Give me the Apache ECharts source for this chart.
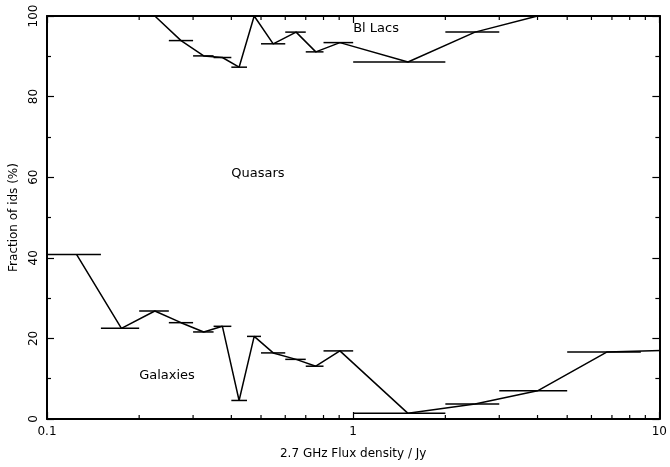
<!DOCTYPE html>
<html><head><meta charset="utf-8">
<script src="https://cdn.jsdelivr.net/npm/echarts@6/dist/echarts.min.js"></script>
<style>html,body{margin:0;padding:0;background:#fff}#c{width:670px;height:467px}</style>
</head><body><div id="c"></div>
<script>
// Bin edges (Jy)
var binLo = [0.1,0.15,0.2,0.25,0.3,0.35,0.4,0.45,0.5,0.6,0.7,0.8,1.0,2.0,3.0,5.0];
var binHi = [0.15,0.2,0.25,0.3,0.35,0.4,0.45,0.5,0.6,0.7,0.8,1.0,2.0,3.0,5.0,8.7];
// Representative flux of each bin (where the connecting line bends)
var binMid = [0.125,0.175,0.225,0.274,0.325,0.374,0.424,0.475,0.548,0.651,0.755,0.905,1.51,2.5,4.0,6.73,14];
// Galaxy fraction (%)
var galaxies = [40.8,22.5,26.8,23.9,21.6,23.0,4.6,20.5,16.4,14.8,13.1,16.9,1.4,3.7,7.0,16.6,17.3];
// 100 - BL Lac fraction (%)  (upper boundary of quasars)
var upper = [100,100,100,93.9,90.1,89.7,87.3,100,93.1,96.0,91.1,93.4,88.6,96.0,100,100,100];
// Axis ticks
var xMajor = [0.1,1,10];
var xMinor = [0.2,0.3,0.4,0.5,0.6,0.7,0.8,0.9,2,3,4,5,6,7,8,9];
var labels = [{t:'Quasars',x:0.4,y:60.8},{t:'Bl Lacs',x:1.0,y:96.8},{t:'Galaxies',x:0.2,y:10.8}];

var FONT = 'DejaVu Sans';
function lineData(vals){ return binMid.map(function(x,i){return [x, vals[i]];}); }
function barData(vals){ return binLo.map(function(lo,i){return [lo, binHi[i], vals[i]];}); }

function barSeries(vals){
  return {
    type:'custom', xAxisIndex:0, yAxisIndex:0, clip:true, silent:true,
    data: barData(vals), encode:{x:[0,1], y:2},
    renderItem:function(params, api){
      var a = api.coord([api.value(0), api.value(2)]);
      var b = api.coord([api.value(1), api.value(2)]);
      return {type:'line', shape:{x1:a[0],y1:a[1],x2:b[0],y2:b[1]}, style:{stroke:'#000', lineWidth:1.5}};
    }
  };
}
function minorTickSeries(){
  return {
    type:'custom', xAxisIndex:0, yAxisIndex:0, silent:true, clip:false,
    data: xMinor.map(function(v){return [v];}), encode:{x:0},
    renderItem:function(params, api){
      var b = api.coord([api.value(0), 0]);
      var t = api.coord([api.value(0), 100]);
      return {type:'group', children:[
        {type:'line', shape:{x1:b[0],y1:b[1],x2:b[0],y2:b[1]-4}, style:{stroke:'#000',lineWidth:1.2}},
        {type:'line', shape:{x1:t[0],y1:t[1],x2:t[0],y2:t[1]+4}, style:{stroke:'#000',lineWidth:1.2}}
      ]};
    }
  };
}
function textSeries(){
  return {
    type:'scatter', xAxisIndex:0, yAxisIndex:0, symbolSize:0, silent:true,
    data: labels.map(function(l){return {value:[l.x,l.y], name:l.t};}),
    label:{show:true, position:'right', distance:0, formatter:'{b}', color:'#000', fontSize:13, fontFamily:FONT},
    itemStyle:{opacity:1}
  };
}

var chart = echarts.init(document.getElementById('c'), null, {renderer:'canvas'});
var axisLine = {show:true, onZero:false, lineStyle:{color:'#000', width:2}};
chart.setOption({
  animation:false,
  backgroundColor:'#fff',
  grid:{left:47, right:8, top:16, bottom:48, containLabel:false},
  xAxis:[{
    type:'log', logBase:10, min:0.1, max:10, position:'bottom',
    axisLine:axisLine,
    axisTick:{show:true, inside:true, length:7, lineStyle:{color:'#000', width:1.2}},
    axisLabel:{color:'#000', fontSize:12, fontFamily:FONT, margin:7,
      formatter:function(v){ return xMajor.indexOf(+v.toPrecision(3))>=0 ? String(+v.toPrecision(3)) : ''; }},
    splitLine:{show:false},
    name:'2.7 GHz Flux density / Jy', nameLocation:'middle', nameGap:29,
    nameTextStyle:{color:'#000', fontSize:12, fontFamily:FONT}
  },{
    type:'log', logBase:10, min:0.1, max:10, position:'top',
    axisLine:axisLine,
    axisTick:{show:true, inside:true, length:7, lineStyle:{color:'#000', width:1.2}},
    axisLabel:{show:false}, splitLine:{show:false}
  }],
  yAxis:[{
    type:'value', min:0, max:100, interval:20, position:'left',
    axisLine:axisLine,
    axisTick:{show:true, inside:true, length:7, lineStyle:{color:'#000', width:1.2}},
    minorTick:{show:true, splitNumber:2, length:4, lineStyle:{color:'#000', width:1.2}},
    axisLabel:{color:'#000', fontSize:12, fontFamily:FONT, rotate:90, margin:7},
    splitLine:{show:false}, minorSplitLine:{show:false},
    name:'Fraction of ids (%)', nameLocation:'middle', nameGap:24, nameRotate:90,
    nameTextStyle:{color:'#000', fontSize:12, fontFamily:FONT}
  },{
    type:'value', min:0, max:100, interval:20, position:'right',
    axisLine:axisLine,
    axisTick:{show:true, inside:true, length:7, lineStyle:{color:'#000', width:1.2}},
    minorTick:{show:true, splitNumber:2, length:4, lineStyle:{color:'#000', width:1.2}},
    axisLabel:{show:false}, splitLine:{show:false}
  }],
  series:[
    {type:'line', xAxisIndex:0, yAxisIndex:0, data:lineData(galaxies), showSymbol:false, clip:true,
     lineStyle:{color:'#000', width:1.5}, silent:true},
    {type:'line', xAxisIndex:0, yAxisIndex:0, data:lineData(upper), showSymbol:false, clip:true,
     lineStyle:{color:'#000', width:1.5}, silent:true},
    barSeries(galaxies),
    barSeries(upper),
    minorTickSeries(),
    textSeries()
  ]
});
</script></body></html>
